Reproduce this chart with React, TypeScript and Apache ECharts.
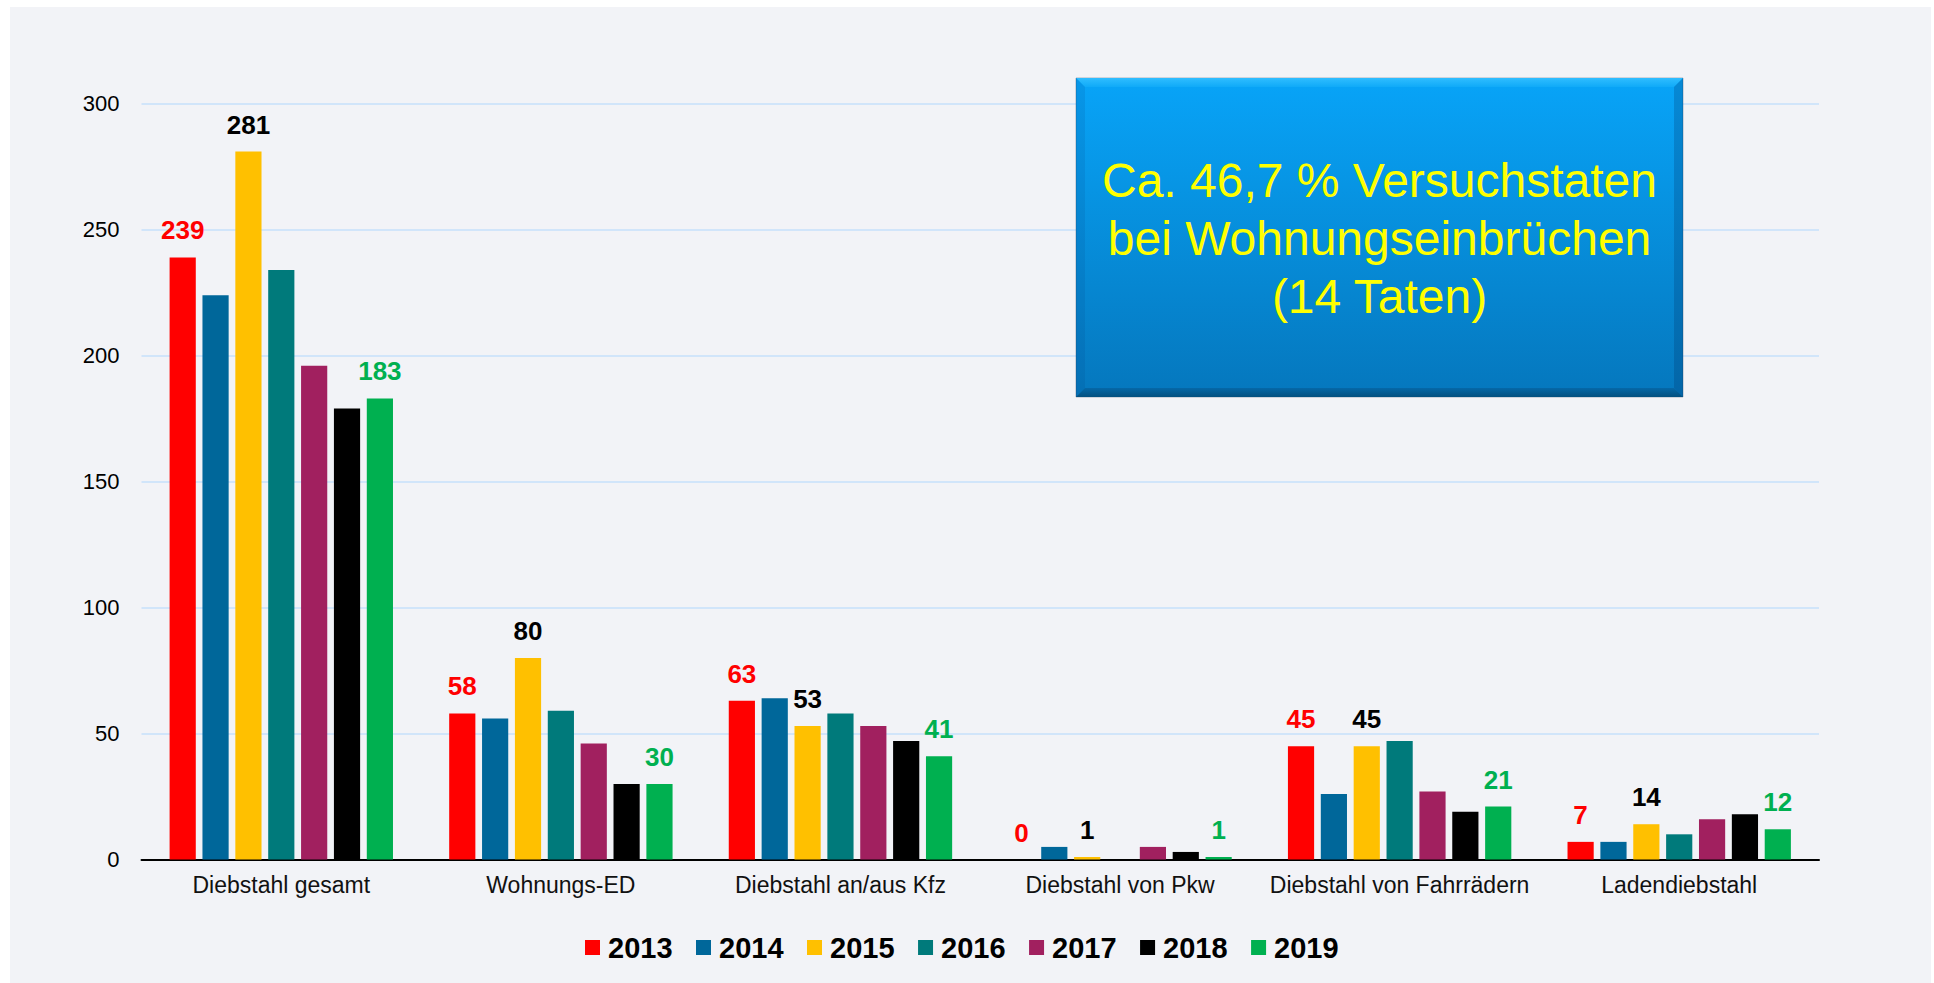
import React, { useEffect, useRef } from "react";
import * as echarts from "echarts";

const categories = [
  "Diebstahl gesamt",
  "Wohnungs-ED",
  "Diebstahl an/aus Kfz",
  "Diebstahl von Pkw",
  "Diebstahl von Fahrrädern",
  "Ladendiebstahl",
];
const years = ["2013", "2014", "2015", "2016", "2017", "2018", "2019"];
const v2013 = [239, 58, 63, 0, 45, 7];
const v2014 = [224, 56, 64, 5, 26, 7];
const v2015 = [281, 80, 53, 1, 45, 14];
const v2016 = [234, 59, 58, 0, 47, 10];
const v2017 = [196, 46, 53, 5, 27, 16];
const v2018 = [179, 30, 47, 3, 19, 18];
const v2019 = [183, 30, 41, 1, 21, 12];
const seriesValues = [v2013, v2014, v2015, v2016, v2017, v2018, v2019];
const colors = ["#ff0000", "#00679a", "#ffc000", "#007a7b", "#a1205f", "#000000", "#00b050"];
// which series show value labels, and their label colours
const labelColors: (string | null)[] = ["#ff0000", null, "#000000", null, null, null, "#00b050"];
const yTicks = { min: 0, max: 300, interval: 50 };
const boxLines = ["Ca. 46,7 % Versuchstaten", "bei Wohnungseinbrüchen", "(14 Taten)"];

const FONT = "'Liberation Sans', Arial, sans-serif";

export default function App() {
  const ref = useRef<HTMLDivElement>(null);
  useEffect(() => {
    if (!ref.current) return;
    const chart = echarts.init(ref.current, undefined, { renderer: "svg" });
    const bx = 1066, by = 71, bw = 607, bh = 319, bv = 9;
    const Z = 100;
    chart.setOption({
      animation: false,
      backgroundColor: "#f2f3f7",
      textStyle: { fontFamily: FONT },
      grid: { left: 131.5, right: 112, top: 96.7, bottom: 123.5, containLabel: false },
      legend: {
        left: 570,
        top: 921,
        itemWidth: 15,
        itemHeight: 15,
        itemGap: 23.5,
        icon: "rect",
        textStyle: { fontFamily: FONT, fontSize: 29, fontWeight: "bold", color: "#000", padding: [0, 0, 0, 3] },
        data: years,
      },
      xAxis: {
        type: "category",
        data: categories,
        axisLine: { lineStyle: { color: "#000", width: 2 } },
        axisTick: { show: false },
        axisLabel: { fontFamily: FONT, fontSize: 23, color: "#111", margin: 14, interval: 0 },
      },
      yAxis: {
        type: "value",
        min: yTicks.min,
        max: yTicks.max,
        interval: yTicks.interval,
        axisLine: { show: false },
        axisTick: { show: false },
        axisLabel: { fontFamily: FONT, fontSize: 22, color: "#000", margin: 22 },
        splitLine: { lineStyle: { color: "#c6e0fb", width: 1.5 } },
      },
      series: years.map((y, i) => ({
        name: y,
        type: "bar",
        data: seriesValues[i],
        barGap: "25.5%",
        barCategoryGap: "20.1%",
        itemStyle: { color: colors[i] },
        label: labelColors[i]
          ? {
              show: true,
              position: "top",
              distance: 14,
              color: labelColors[i],
              fontFamily: FONT,
              fontSize: 26,
              fontWeight: "bold",
            }
          : { show: false },
      })),
      graphic: [
        {
          type: "rect",
          z: Z,
          shape: { x: bx, y: by, width: bw, height: bh },
          style: {
            fill: new echarts.graphic.LinearGradient(0, 0, 0, 1, [
              { offset: 0, color: "#08a4f8" },
              { offset: 1, color: "#0577bd" },
            ]),
            stroke: "rgba(40,60,90,0.35)",
            lineWidth: 1,
          },
        },
        {
          type: "polygon",
          z: Z + 1,
          shape: { points: [[bx, by], [bx + bw, by], [bx + bw - bv, by + bv], [bx + bv, by + bv]] },
          style: {
            fill: new echarts.graphic.LinearGradient(0, 0, 0, 1, [
              { offset: 0, color: "#2fbdff" },
              { offset: 1, color: "#10aaf8" },
            ]),
          },
        },
        {
          type: "polygon",
          z: Z + 1,
          shape: { points: [[bx, by], [bx + bv, by + bv], [bx + bv, by + bh - bv], [bx, by + bh]] },
          style: { fill: "rgba(0,60,120,0.12)" },
        },
        {
          type: "polygon",
          z: Z + 1,
          shape: { points: [[bx + bw, by], [bx + bw, by + bh], [bx + bw - bv, by + bh - bv], [bx + bw - bv, by + bv]] },
          style: { fill: "rgba(0,40,90,0.22)" },
        },
        {
          type: "polygon",
          z: Z + 1,
          shape: { points: [[bx, by + bh], [bx + bv, by + bh - bv], [bx + bw - bv, by + bh - bv], [bx + bw, by + bh]] },
          style: {
            fill: new echarts.graphic.LinearGradient(0, 0, 0, 1, [
              { offset: 0, color: "#0568a8" },
              { offset: 1, color: "#04507f" },
            ]),
          },
        },
        {
          type: "text",
          z: Z + 2,
          x: bx + bw / 2,
          y: by + bh / 2 + 1,
          style: {
            text: boxLines.join("\n"),
            fill: "#ffff00",
            fontFamily: FONT,
            fontSize: 48,
            lineHeight: 57.6,
            align: "center",
            verticalAlign: "middle",
          },
        },
      ],
    });
    return () => chart.dispose();
  }, []);
  return (
    <div style={{ position: "fixed", left: 0, top: 0, width: 1934, height: 983, background: "#ffffff" }}>
      <div ref={ref} style={{ position: "absolute", left: 10, top: 7, width: 1921, height: 976 }} />
    </div>
  );
}
